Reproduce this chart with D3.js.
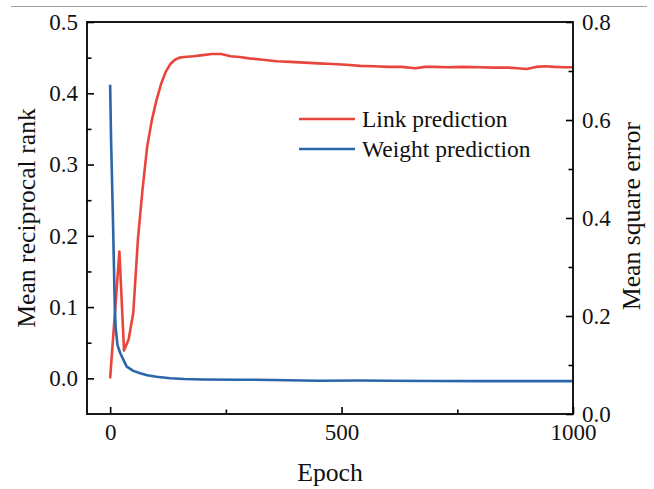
<!DOCTYPE html>
<html>
<head>
<meta charset="utf-8">
<script src="https://cdn.jsdelivr.net/npm/d3@7"></script>
<style>
  html, body { margin: 0; padding: 0; background: #fff; }
  svg { display: block; }
  text { font-family: "Liberation Serif", "Times New Roman", serif; fill: #111; }
</style>
</head>
<body>
<svg id="chart" width="654" height="489"></svg>
<script>
// ---- data ----
const linkEpochs = [0,10,20,30,40,50,60,70,80,90,100,110,120,130,140,150,160,180,200,220,240,260,280,300,330,360,390,420,450,480,510,540,570,600,630,660,680,700,730,760,800,830,860,880,900,920,940,960,980,1000];
const linkMRR    = [0.000,0.089,0.178,0.039,0.055,0.092,0.195,0.265,0.325,0.362,0.390,0.413,0.430,0.441,0.447,0.450,0.451,0.452,0.4535,0.455,0.455,0.452,0.451,0.449,0.447,0.445,0.444,0.443,0.442,0.441,0.440,0.4385,0.438,0.437,0.437,0.435,0.437,0.437,0.4365,0.437,0.4365,0.436,0.436,0.435,0.434,0.437,0.438,0.437,0.4365,0.4365];

const weightEpochs = [0,2,6,10,12,16,22,30,36,50,65,80,100,130,160,200,280,350,450,540,600,700,800,900,1000];
const weightMSE    = [0.672,0.560,0.400,0.220,0.175,0.140,0.124,0.108,0.0965,0.088,0.083,0.079,0.076,0.0729,0.0715,0.0705,0.0700,0.0695,0.0680,0.0685,0.0680,0.0675,0.0670,0.0670,0.0670];

const xTicks = [0, 500, 1000];
const xMinorTicks = [250, 750];
const yLeftTicks = [0.0, 0.1, 0.2, 0.3, 0.4, 0.5];
const yLeftMinorTicks = [0.05, 0.15, 0.25, 0.35, 0.45];
const yRightTicks = [0.0, 0.2, 0.4, 0.6, 0.8];
const yRightMinorTicks = [0.1, 0.3, 0.5, 0.7];

const seriesNames = ["Link prediction", "Weight prediction"];
const colors = ["#E8453C", "#2B66AA"];
const xTitle = "Epoch";
const yLeftTitle = "Mean reciprocal rank";
const yRightTitle = "Mean square error";

// ---- layout ----
const svg = d3.select("#chart");
const L = 87, R = 573, T = 22, B = 414;

const x = d3.scaleLinear().domain([-50, 1000]).range([L, R]);
const yL = d3.scaleLinear().domain([-0.05, 0.5]).range([B, T]);
const yR = d3.scaleLinear().domain([0, 0.8]).range([B, T]);

// top decorative rule
svg.append("line").attr("x1", 11).attr("x2", 647).attr("y1", 6.5).attr("y2", 6.5)
  .attr("stroke", "#a0a0a0").attr("stroke-width", 1.2);

// series
const lineLink = d3.line().x((d, i) => x(linkEpochs[i])).y(d => yL(d));
const lineWeight = d3.line().x((d, i) => x(weightEpochs[i])).y(d => yR(d));

const plot = svg.append("g");
plot.append("path").datum(linkMRR).attr("d", lineLink)
  .attr("fill", "none").attr("stroke", colors[0]).attr("stroke-width", 2.6)
  .attr("stroke-linejoin", "round");
plot.append("path").datum(weightMSE).attr("d", lineWeight)
  .attr("fill", "none").attr("stroke", colors[1]).attr("stroke-width", 2.6)
  .attr("stroke-linejoin", "round");

// axes
function styleAxis(g) {
  g.selectAll(".domain").remove();
  g.selectAll(".tick line").attr("stroke", "#000").attr("stroke-width", 1.6);
  g.selectAll("text").attr("font-size", "23px").attr("fill", "#111")
    .attr("font-family", '"Liberation Serif", "Times New Roman", serif');
}

svg.append("g").attr("transform", `translate(0,${B})`)
  .call(d3.axisBottom(x).tickValues(xTicks).tickSize(-7).tickPadding(10).tickFormat(d3.format("d")))
  .call(styleAxis);
svg.append("g").attr("transform", `translate(0,${B})`)
  .call(d3.axisBottom(x).tickValues(xMinorTicks).tickSize(-4.5).tickFormat(""))
  .call(styleAxis);

svg.append("g").attr("transform", `translate(${L},0)`)
  .call(d3.axisLeft(yL).tickValues(yLeftTicks).tickSize(-7).tickPadding(9).tickFormat(d3.format(".1f")))
  .call(styleAxis);
svg.append("g").attr("transform", `translate(${L},0)`)
  .call(d3.axisLeft(yL).tickValues(yLeftMinorTicks).tickSize(-4.5).tickFormat(""))
  .call(styleAxis);

svg.append("g").attr("transform", `translate(${R},0)`)
  .call(d3.axisRight(yR).tickValues(yRightTicks).tickSize(-7).tickPadding(9).tickFormat(d3.format(".1f")))
  .call(styleAxis);
svg.append("g").attr("transform", `translate(${R},0)`)
  .call(d3.axisRight(yR).tickValues(yRightMinorTicks).tickSize(-4.5).tickFormat(""))
  .call(styleAxis);

// frame
svg.append("rect").attr("x", L).attr("y", T).attr("width", R - L).attr("height", B - T)
  .attr("fill", "none").attr("stroke", "#000").attr("stroke-width", 1.8);

// titles
svg.append("text").attr("x", (L + R) / 2).attr("y", 481).attr("text-anchor", "middle")
  .attr("font-size", "25.7px").text(xTitle);
svg.append("text").attr("transform", `translate(35,${(T + B) / 2}) rotate(-90)`)
  .attr("text-anchor", "middle").attr("font-size", "25.7px").text(yLeftTitle);
svg.append("text").attr("transform", `translate(640,${(T + B) / 2 - 2}) rotate(-90)`)
  .attr("text-anchor", "middle").attr("font-size", "25.7px").text(yRightTitle);

// legend
const legend = svg.append("g");
seriesNames.forEach((name, i) => {
  const yy = 119 + i * 30;
  legend.append("line").attr("x1", 299).attr("x2", 355).attr("y1", yy).attr("y2", yy)
    .attr("stroke", colors[i]).attr("stroke-width", 2.6);
  legend.append("text").attr("x", 362).attr("y", yy + 8).attr("font-size", "23.5px").text(name);
});
</script>
</body>
</html>
